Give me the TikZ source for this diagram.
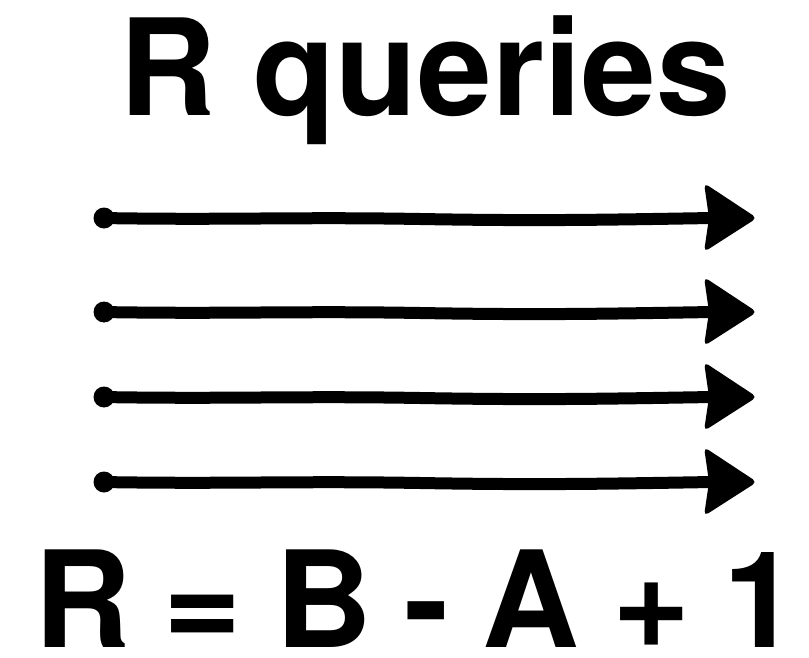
\documentclass[tikz,border=0pt]{standalone}
\usepackage{fontspec}
\setmainfont{TeX Gyre Heros}
\begin{document}
\begin{tikzpicture}[x=1pt,y=-1pt,
  big/.style={font=\fontsize{134}{134}\selectfont\bfseries, inner sep=0pt, anchor=base west},
  shaft/.style={line width=12pt, line cap=round},
  head/.style={fill=black, rounded corners=5pt},
  blob/.style={fill=black}]
\useasboundingbox (0,0) rectangle (809,658);
\node[big] (title) at (119,116) {R queries};
\node[big] (formula) at (34,647) {\spaceskip=33pt\relax R = B - A + 1};
\foreach \i/\y in {1/218,2/312,3/397,4/482}{
  \coordinate (s\i) at (101,\y);
  \coordinate (m\i) at (420,\y+1);
  \coordinate (e\i) at (712,\y);
  \fill[blob] (104,\y) circle (10.5);
  \draw[shaft] (s\i) to[out=-1,in=179] (m\i) to[out=-1,in=181] (e\i);
  \path[head] (704,\y-35) -- (757,\y) -- (704,\y+34) -- (709,\y) -- cycle;
}
\end{tikzpicture}
\end{document}
